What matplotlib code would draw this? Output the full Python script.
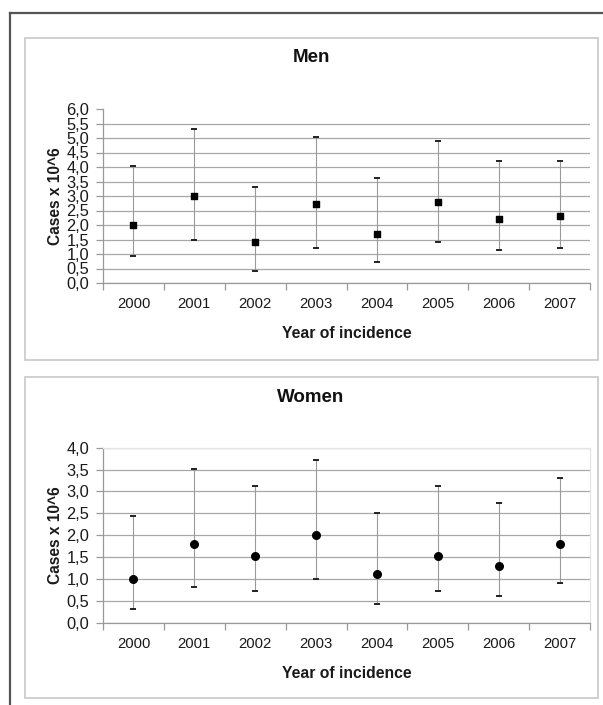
import matplotlib
matplotlib.use("Agg")
import matplotlib.pyplot as plt
from matplotlib.patches import Rectangle
import numpy as np

plt.rcParams['font.family'] = ['Liberation Sans', 'DejaVu Sans']

years = ['2000', '2001', '2002', '2003', '2004', '2005', '2006', '2007']

# Men (cases x 10^6): estimate, lower and upper limits
men_est = [2.0, 3.0, 1.42, 2.72, 1.69, 2.80, 2.22, 2.31]
men_low = [0.93, 1.5, 0.43, 1.22, 0.72, 1.40, 1.13, 1.20]
men_high = [4.02, 5.3, 3.3, 5.02, 3.63, 4.91, 4.2, 4.2]

# Women
women_est = [1.0, 1.8, 1.52, 2.0, 1.11, 1.52, 1.30, 1.81]
women_low = [0.32, 0.81, 0.73, 1.0, 0.43, 0.72, 0.62, 0.91]
women_high = [2.43, 3.52, 3.12, 3.72, 2.51, 3.12, 2.73, 3.30]

W, H = 603, 705
fig = plt.figure(figsize=(W / 100, H / 100), dpi=100)

def px(x0, y0, x1, y1):
    # pixel box (top-left origin) -> figure fraction
    return [x0 / W, 1 - y1 / H, (x1 - x0) / W, (y1 - y0) / H]

# outer frame (runs off the right and bottom edges)
fig.add_artist(plt.Line2D([10 / W, 10 / W], [0, 1 - 13 / H], color='#555555', lw=1.6, zorder=-5))
fig.add_artist(plt.Line2D([10 / W, 1], [1 - 13 / H, 1 - 13 / H], color='#555555', lw=1.6, zorder=-5))

# panel boxes
for (y0, y1) in [(38, 360), (377, 698)]:
    b = px(25, y0, 598, y1)
    fig.add_artist(Rectangle((b[0], b[1]), b[2], b[3], transform=fig.transFigure,
                             facecolor='white', edgecolor='#c8c8c8', lw=1.2, zorder=-5))


def panel(box, est, low, high, ymax, marker, msize, title, title_y, top_border):
    ax = fig.add_axes(px(*box))
    ax.patch.set_alpha(0)
    x = np.arange(len(years))
    est = np.array(est)
    yerr = [est - np.array(low), np.array(high) - est]
    ax.errorbar(x, est, yerr=yerr, fmt='none', ecolor='#9a9a9a', elinewidth=0.8,
                capsize=0, zorder=3)
    ax.scatter(x, low, marker='_', s=20, color='#222222', linewidths=1.4, zorder=4)
    ax.scatter(x, high, marker='_', s=20, color='#222222', linewidths=1.4, zorder=4)
    ax.scatter(x, est, marker=marker, s=msize, color='black', zorder=5)

    ax.set_xlim(-0.5, len(years) - 0.5)
    ax.set_ylim(0, ymax)
    yt = np.arange(0, ymax + 0.01, 0.5)
    ax.set_yticks(yt)
    ax.set_yticklabels([('%.1f' % v).replace('.', ',') for v in yt])
    ax.yaxis.grid(True, color='#a8a8a8', lw=0.9)
    ax.set_axisbelow(True)
    if not top_border:
        ax.get_ygridlines()[-1].set_visible(False)

    ax.set_xticks(x)
    ax.set_xticklabels(years)
    ax.set_xticks(np.arange(len(years) + 1) - 0.5, minor=True)
    ax.tick_params(axis='x', which='major', length=0, pad=10, labelsize=10.7, colors='#1a1a1a')
    ax.tick_params(axis='x', which='minor', length=5, color='#999999', width=0.9, direction='out')
    ax.tick_params(axis='y', length=5, color='#999999', width=0.9, labelsize=11.8,
                   labelcolor='#1a1a1a', pad=5)

    for s in ['left', 'bottom']:
        ax.spines[s].set_color('#999999')
        ax.spines[s].set_linewidth(0.9)
    if top_border:
        for s in ['top', 'right']:
            ax.spines[s].set_color('#e4e4e4')
            ax.spines[s].set_linewidth(0.9)
    else:
        ax.spines['top'].set_visible(False)
        ax.spines['right'].set_visible(False)

    ax.set_xlabel('Year of incidence', fontsize=11.3, fontweight='bold', labelpad=11,
                  color='#1a1a1a')
    ax.set_ylabel('Cases x 10^6', fontsize=11.2, fontweight='bold', labelpad=2,
                  color='#1a1a1a')
    fig.text(311 / W, 1 - title_y / H, title, ha='center', va='center',
             fontsize=13.5, fontweight='bold', color='#111111')
    return ax


panel((103, 109, 590, 283), men_est, men_low, men_high, 6.0, 's', 24, 'Men', 58, False)
panel((103, 447.7, 590, 622.7), women_est, women_low, women_high, 4.0, 'o', 30, 'Women', 397, True)

fig.savefig('out.png', dpi=100)
